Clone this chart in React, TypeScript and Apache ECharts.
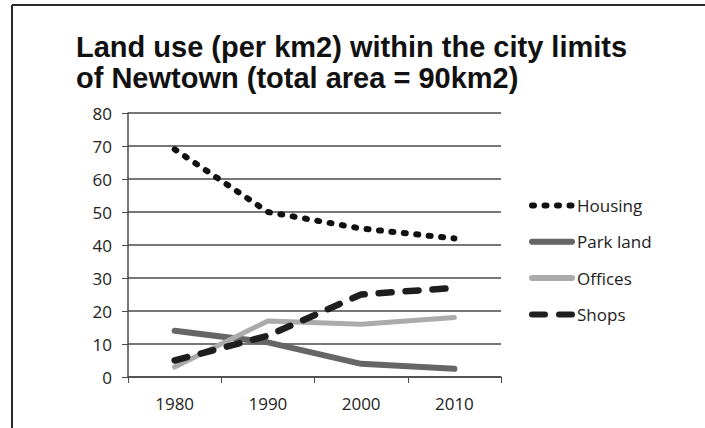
import React, { useEffect, useRef } from "react";
import * as echarts from "echarts";

const TITLE = "Land use (per km2) within the city limits\nof Newtown (total area = 90km2)";
const years = ["1980", "1990", "2000", "2010"];
const housing = [69, 50, 45, 42];
const parkLand = [14, 10.5, 4, 2.5];
const offices = [3, 17, 16, 18];
const shops = [5, 12.5, 25, 27];
const yTicks = { min: 0, max: 80, interval: 10 };

export default function App() {
  const ref = useRef<HTMLDivElement>(null);
  useEffect(() => {
    if (!ref.current) return;
    const chart = echarts.init(ref.current, null, { renderer: "svg" });
    const font = "'Open Sans', sans-serif";
    const mk = (name: string, data: number[], color: string, width: number, type: any) => ({
      name,
      type: "line",
      data,
      symbol: "none",
      showSymbol: false,
      lineStyle: { color, width, type, cap: "round", join: "round" },
      itemStyle: { color },
    });
    chart.setOption({
      animation: false,
      backgroundColor: "#ffffff",
      title: {
        text: TITLE,
        left: 76,
        top: 31,
        padding: 0,
        textStyle: {
          fontFamily: "'Liberation Sans', Arial, sans-serif",
          fontWeight: "bold",
          fontSize: 29,
          lineHeight: 31,
          color: "#111",
        },
      },
      legend: {
        orient: "vertical",
        left: 529,
        top: 195.5,
        padding: 0,
        itemWidth: 40,
        itemHeight: 20,
        itemGap: 16.3,
        itemStyle: { opacity: 0, borderWidth: 0 },
        lineStyle: { width: 6, cap: "round" },
        textStyle: { fontFamily: font, fontSize: 17, lineHeight: 20, color: "#222" },
        data: ["Housing", "Park land", "Offices", "Shops"],
      },
      grid: { left: 128, right: 204, top: 113, bottom: 51, containLabel: false },
      xAxis: {
        type: "category",
        data: years,
        boundaryGap: true,
        axisLine: { lineStyle: { color: "#4a4a4a", width: 1.5 } },
        axisTick: { show: true, length: 6, lineStyle: { color: "#4a4a4a" } },
        axisLabel: { fontFamily: font, fontSize: 17, color: "#222", margin: 18 },
      },
      yAxis: {
        type: "value",
        min: yTicks.min,
        max: yTicks.max,
        interval: yTicks.interval,
        axisLine: { show: true, lineStyle: { color: "#4a4a4a", width: 1.5 } },
        axisTick: { show: true, length: 6, lineStyle: { color: "#4a4a4a" } },
        axisLabel: { fontFamily: font, fontSize: 17, color: "#222", margin: 16 },
        splitLine: { lineStyle: { color: "#4a4a4a", width: 1.5 } },
      },
      series: [
        mk("Housing", housing, "#111111", 6, [2, 10.5]),
        mk("Park land", parkLand, "#666666", 6, "solid"),
        mk("Offices", offices, "#ababab", 5, "solid"),
        mk("Shops", shops, "#1e1e1e", 6.5, [13, 14]),
      ],
      graphic: [
        { type: "line", shape: { x1: 12, y1: 5, x2: 705, y2: 5 }, style: { stroke: "#2a2a2a", lineWidth: 2 } },
        { type: "line", shape: { x1: 12, y1: 5, x2: 12, y2: 428 }, style: { stroke: "#2a2a2a", lineWidth: 2 } },
      ],
    });
    return () => chart.dispose();
  }, []);
  return (
    <div
      ref={ref}
      style={{ position: "fixed", left: 0, top: 0, width: 705, height: 428, background: "#fff" }}
    />
  );
}
